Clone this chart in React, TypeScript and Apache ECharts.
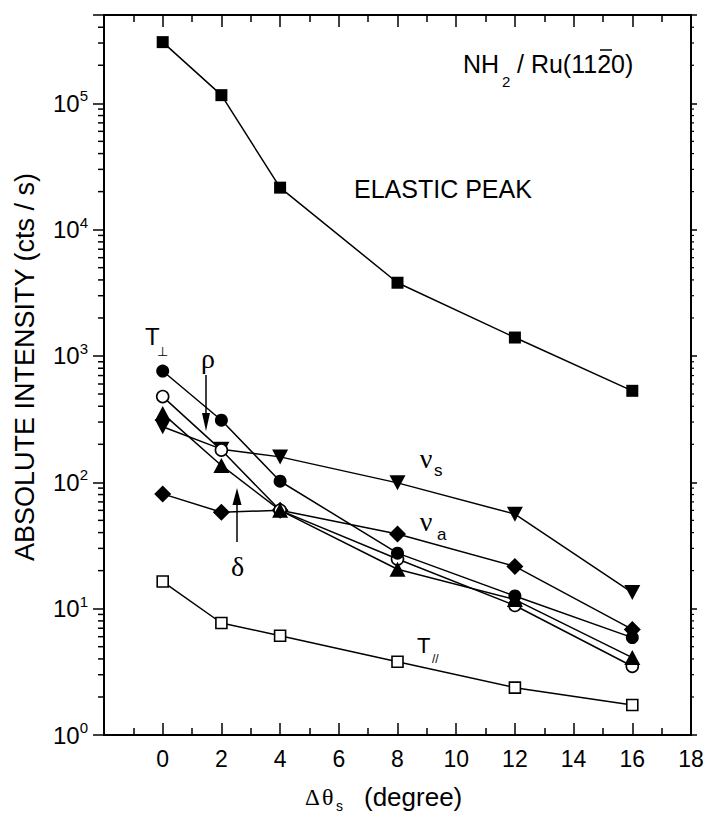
import React, { useEffect, useRef } from "react";
import * as echarts from "echarts";

// ---- data ----
const angles = [0, 2, 4, 8, 12, 16];
const elasticPeak = [3.05e5, 1.16e5, 2.15e4, 3.8e3, 1.4e3, 530];
const tPerp = [760, 310, 102, 27.5, 12.6, 5.9];
const rho = [477, 180, 60, 24.7, 10.6, 3.5];
const delta = [350, 136, 60, 20.5, 11.8, 4.1];
const nuS = [275, 183, 159, 99, 56, 13.4];
const nuA = [81, 58, 60, 39, 21.6, 6.85];
const tPar = [16.4, 7.7, 6.1, 3.8, 2.37, 1.73];

const xMin = -2;
const xMax = 18;
const xInterval = 2;
const yMin = 1;
const yMax = 5e5;

// minor log ticks (2..9 x 10^n) inside the y range
const minorLogTicks: number[] = [];
for (let d = 0; d <= 5; d++) {
  for (let k = 2; k <= 9; k++) {
    const v = k * Math.pow(10, d);
    if (v < yMax) minorLogTicks.push(v);
  }
}

const SANS = '"Liberation Sans", Arial, Helvetica, sans-serif';
const SERIF = '"Liberation Serif", "Times New Roman", serif';

function pairs(vals: number[]) {
  return angles.map((x, i) => [x, vals[i]]);
}

function lineSeries(
  name: string,
  vals: number[],
  symbol: string,
  size: number | number[],
  fill: string,
  rotate = 0
) {
  return {
    type: "line",
    name,
    data: pairs(vals),
    symbol,
    symbolSize: size,
    symbolRotate: rotate,
    showSymbol: true,
    itemStyle: {
      color: fill,
      borderColor: "#000",
      borderWidth: fill === "#fff" ? 1.6 : 0,
    },
    lineStyle: { color: "#000", width: 1.5 },
    emphasis: { disabled: true },
  };
}

function txt(text: string, x: number, y: number, size: number, family: string, align = "left", valign = "top", extra: any = {}) {
  return {
    type: "text",
    x,
    y,
    ...extra,
    style: {
      text,
      fontSize: size,
      fontFamily: family,
      fill: "#000",
      textAlign: align,
      textVerticalAlign: valign,
    },
    z: 100,
  };
}

export default function App() {
  const ref = useRef<HTMLDivElement>(null);

  useEffect(() => {
    if (!ref.current) return;
    const chart = echarts.init(ref.current, undefined, { renderer: "svg" });

    const commonX = {
      type: "value",
      min: xMin,
      max: xMax,
      interval: xInterval,
      splitLine: { show: false },
      axisLine: { show: true, onZero: false, lineStyle: { color: "#000", width: 2 } },
      axisTick: { show: true, inside: true, length: 12, lineStyle: { color: "#000", width: 1.5 } },
      minorTick: { show: true, splitNumber: 2, length: 7, lineStyle: { color: "#000", width: 1.5 } },
    };

    const option: any = {
      animation: false,
      backgroundColor: "#fff",
      grid: { left: 104, right: 16, top: 15, bottom: 79, containLabel: false },
      xAxis: [
        {
          ...commonX,
          position: "bottom",
          axisLabel: {
            show: true,
            margin: 12,
            fontSize: 23,
            fontFamily: SANS,
            color: "#000",
            formatter: (v: number) => (v < 0 ? "" : String(v)),
          },
        },
        {
          ...commonX,
          position: "top",
          axisLabel: { show: false },
        },
      ],
      yAxis: [
        {
          type: "log",
          logBase: 10,
          min: yMin,
          max: yMax,
          position: "left",
          splitLine: { show: false },
          axisLine: { show: true, onZero: false, lineStyle: { color: "#000", width: 2 } },
          axisTick: { show: true, inside: false, length: 11, lineStyle: { color: "#000", width: 1.5 } },
          axisLabel: {
            show: true,
            margin: 16,
            color: "#000",
            formatter: (v: number) => {
              const e = Math.round(Math.log10(v));
              if (Math.abs(v - Math.pow(10, e)) / v > 1e-6) return "";
              return "{b|10}{s|" + e + "}";
            },
            rich: {
              b: { fontSize: 24, fontFamily: SANS, color: "#000", lineHeight: 30 },
              s: { fontSize: 15, fontFamily: SANS, color: "#000", verticalAlign: "top", lineHeight: 15 },
            },
          },
        },
        {
          type: "log",
          logBase: 10,
          min: yMin,
          max: yMax,
          position: "right",
          splitLine: { show: false },
          axisLine: { show: true, onZero: false, lineStyle: { color: "#000", width: 2 } },
          axisTick: { show: true, inside: false, length: 6, lineStyle: { color: "#000", width: 1.5 } },
          axisLabel: { show: false },
        },
      ],
      series: [
        {
          type: "custom",
          name: "minorTicks",
          silent: true,
          clip: false,
          data: minorLogTicks.map((v) => [xMin, v]),
          renderItem: (params: any, api: any) => {
            const v = api.value(1);
            const pl = api.coord([xMin, v]);
            const pr = api.coord([xMax, v]);
            return {
              type: "group",
              children: [
                {
                  type: "line",
                  shape: { x1: pl[0] - 6, y1: pl[1], x2: pl[0], y2: pl[1] },
                  style: { stroke: "#000", lineWidth: 1.5 },
                },
                {
                  type: "line",
                  shape: { x1: pr[0], y1: pr[1], x2: pr[0] + 3, y2: pr[1] },
                  style: { stroke: "#000", lineWidth: 1.2 },
                },
              ],
            };
          },
        },
        lineSeries("ELASTIC PEAK", elasticPeak, "rect", 12, "#000"),
        lineSeries("T//", tPar, "rect", 11, "#fff"),
        lineSeries("νa", nuA, "diamond", 17, "#000"),
        lineSeries("νs", nuS, "triangle", [16, 15], "#000", 180),
        lineSeries("ρ", rho, "circle", 12, "#fff"),
        lineSeries("T⊥", tPerp, "circle", 13, "#000"),
        lineSeries("δ", delta, "triangle", [16, 15], "#000"),
      ],
      graphic: [
        // y-axis title
        txt("ABSOLUTE INTENSITY (cts / s)", 25, 367, 27, SANS, "center", "middle", { rotation: Math.PI / 2 }),
        // x-axis title
        txt("Δ", 305, 797, 23, SERIF, "left", "middle"),
        txt("θ", 322, 797, 24, SERIF, "left", "middle"),
        txt("s", 336, 799, 14, SANS, "left", "top"),
        txt("(degree)", 364, 797, 26, SANS, "left", "middle"),
        // system label
        txt("NH", 463, 64, 25, SANS, "left", "middle"),
        txt("2", 502, 74, 15, SANS, "left", "top"),
        txt("/ Ru(1120)", 517, 64, 25, SANS, "left", "middle"),
        {
          type: "line",
          shape: { x1: 600, y1: 50, x2: 612, y2: 50 },
          style: { stroke: "#000", lineWidth: 1.5 },
          z: 100,
        },
        // elastic peak
        txt("ELASTIC PEAK", 354, 189, 25, SANS, "left", "middle"),
        // T perp
        txt("T", 145, 336, 24, SANS, "left", "middle"),
        txt("⊥", 157, 351, 13, '"DejaVu Sans", sans-serif', "left", "middle"),
        // rho + arrow
        txt("ρ", 208, 358, 28, SERIF, "center", "middle"),
        { type: "line", shape: { x1: 206, y1: 375, x2: 206, y2: 416 }, style: { stroke: "#000", lineWidth: 1.5 }, z: 100 },
        { type: "polygon", shape: { points: [[202, 413], [210, 413], [206, 431]] }, style: { fill: "#000" }, z: 100 },
        // delta + arrow
        txt("δ", 237.5, 566, 28, SERIF, "center", "middle"),
        { type: "line", shape: { x1: 237, y1: 542, x2: 237, y2: 502 }, style: { stroke: "#000", lineWidth: 1.5 }, z: 100 },
        { type: "polygon", shape: { points: [[232.5, 505], [241.5, 505], [237, 488]] }, style: { fill: "#000" }, z: 100 },
        // nu_s
        txt("ν", 426, 458, 28, SERIF, "center", "middle"),
        txt("s", 434, 462, 17, SANS, "left", "top"),
        // nu_a
        txt("ν", 426, 521, 28, SERIF, "center", "middle"),
        txt("a", 437, 526, 17, SANS, "left", "top"),
        // T parallel
        txt("T", 417, 645, 22, SANS, "left", "middle"),
        txt("//", 432, 659, 12, SANS, "left", "middle"),
      ],
    };

    chart.setOption(option);
    return () => chart.dispose();
  }, []);

  return (
    <div
      ref={ref}
      style={{ position: "fixed", left: 0, top: 0, width: 707, height: 814, background: "#fff" }}
    />
  );
}
